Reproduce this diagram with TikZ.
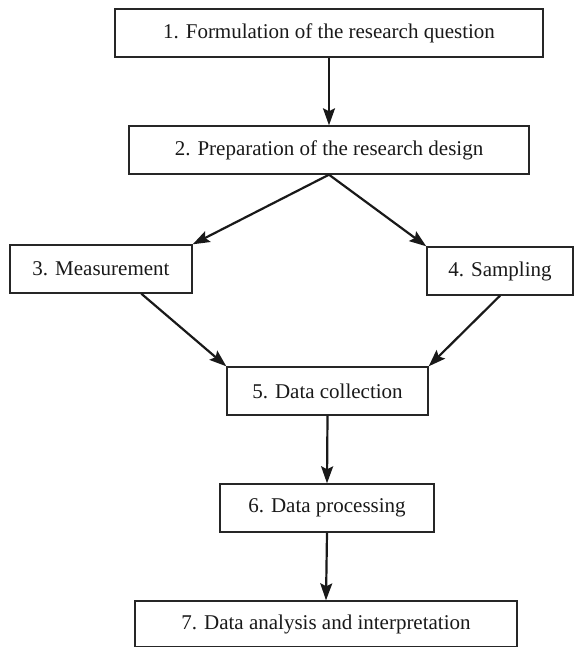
\documentclass[tikz,border=0pt]{standalone}
\usepackage{fontspec}
\setmainfont{Liberation Serif}
\usetikzlibrary{arrows.meta,calc}
\begin{document}
\begin{tikzpicture}[x=1pt,y=-1pt,
  stepbox/.style={draw=black!85,line width=1.4pt,rectangle,inner sep=0pt,
     font=\fontsize{21}{24}\selectfont,text=black!90},
  flow/.style={line width=2.2pt,-{Stealth[length=17pt,width=12pt,inset=3pt]},black!90}]
\useasboundingbox (0,0) rectangle (575,647);
\node[stepbox,minimum width=428pt,minimum height=48pt] (b1) at (329,33) {1. Formulation of the research question};
\node[stepbox,minimum width=400pt,minimum height=48pt] (b2) at (329,150) {2. Preparation of the research design};
\node[stepbox,minimum width=182pt,minimum height=48pt] (b3) at (101,269) {3. Measurement};
\node[stepbox,minimum width=146pt,minimum height=48pt] (b4) at (500,271) {4. Sampling};
\node[stepbox,minimum width=201pt,minimum height=48pt] (b5) at (327.5,391) {5. Data collection};
\node[stepbox,minimum width=214pt,minimum height=48pt] (b6) at (327,508) {6. Data processing};
\node[stepbox,minimum width=382pt,minimum height=46pt] (b7) at (326,624) {7. Data analysis and interpretation};
\draw[flow] (b1.south) -- (b2.north);
\draw[flow] (b2.south) -- (b3.north east);
\draw[flow] (b2.south) -- (b4.north west);
\draw[flow] ($(b3.south west)!0.72!(b3.south east)$) -- (b5.north west);
\draw[flow] (b4.south) -- (b5.north east);
\draw[flow] (b5.south) -- (b6.north);
\draw[flow] (b6.south) -- (b7.north);
\end{tikzpicture}
\end{document}
